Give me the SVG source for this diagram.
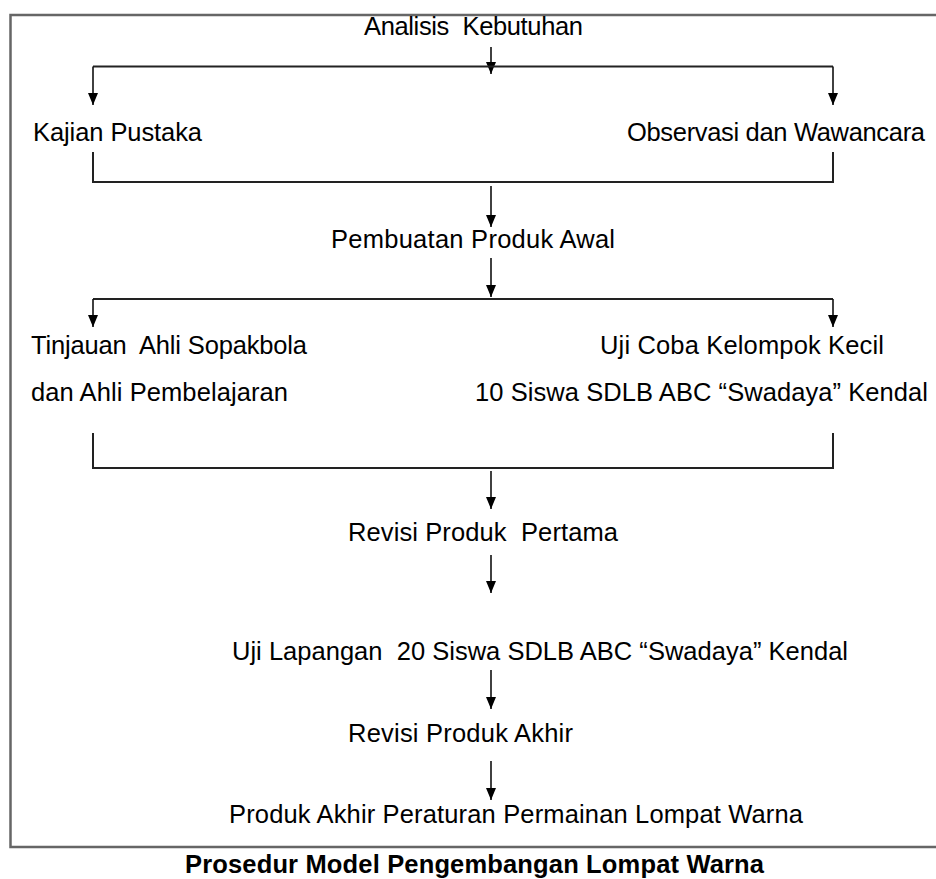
<svg xmlns="http://www.w3.org/2000/svg" width="936" height="879" viewBox="0 0 936 879">
<defs>
<marker id="ah" markerUnits="userSpaceOnUse" markerWidth="12" markerHeight="14" refX="12" refY="5" orient="auto" viewBox="0 0 12 10">
<path d="M0,0 L12,5 L0,10 Z" fill="#000"/>
</marker>
<style>
.t{font-family:"Liberation Sans",Arial,sans-serif;font-size:25.5px;fill:#000;white-space:pre}
.cap{font-family:"Liberation Sans",Arial,sans-serif;font-size:25.5px;font-weight:bold;fill:#000}
.c{fill:none;stroke:#222;stroke-width:2}
.a{fill:none;stroke:#111;stroke-width:1.6;marker-end:url(#ah)}
.frame{fill:none;stroke:#666;stroke-width:2.5}
</style>
</defs>
<rect width="936" height="879" fill="#fff"/>
<path class="frame" d="M936,15 H10.5 V847 H936"/>
<g id="connectors">
<path class="a" d="M491,47 V74"/>
<path class="c" d="M93,66.5 H833"/>
<path class="a" d="M93,66.5 V105"/>
<path class="a" d="M833,66.5 V105"/>
<path class="c" d="M93,152 V182 H833 V152"/>
<path class="a" d="M491,186 V227"/>
<path class="a" d="M491,258 V297"/>
<path class="c" d="M93,299 H833"/>
<path class="a" d="M93,299 V327"/>
<path class="a" d="M833,299 V327"/>
<path class="c" d="M93,433 V468 H833 V433"/>
<path class="a" d="M491,471 V509"/>
<path class="a" d="M491,555 V593"/>
<path class="a" d="M491,670 V709"/>
<path class="a" d="M491,761 V800"/>
</g>
<g id="n-analisis"><text class="t" x="364" y="35" textLength="219" lengthAdjust="spacing">Analisis  Kebutuhan</text></g>
<g id="n-kajian"><text class="t" x="33" y="141" textLength="169" lengthAdjust="spacing">Kajian Pustaka</text></g>
<g id="n-observasi"><text class="t" x="627" y="141" textLength="298" lengthAdjust="spacing">Observasi dan Wawancara</text></g>
<g id="n-pembuatan"><text class="t" x="331" y="248" textLength="284" lengthAdjust="spacing">Pembuatan Produk Awal</text></g>
<g id="n-tinjauan"><text class="t" x="31" y="354" textLength="276" lengthAdjust="spacing">Tinjauan  Ahli Sopakbola</text><text class="t" x="31" y="401" textLength="257" lengthAdjust="spacing">dan Ahli Pembelajaran</text></g>
<g id="n-ujicoba"><text class="t" x="600" y="354" textLength="284" lengthAdjust="spacing">Uji Coba Kelompok Kecil</text><text class="t" x="475" y="401" textLength="453" lengthAdjust="spacing">10 Siswa SDLB ABC “Swadaya” Kendal</text></g>
<g id="n-revisi1"><text class="t" x="348" y="541" textLength="270" lengthAdjust="spacing">Revisi Produk  Pertama</text></g>
<g id="n-ujilapangan"><text class="t" x="232" y="660" textLength="616" lengthAdjust="spacing">Uji Lapangan  20 Siswa SDLB ABC “Swadaya” Kendal</text></g>
<g id="n-revisi2"><text class="t" x="348" y="742" textLength="225" lengthAdjust="spacing">Revisi Produk Akhir</text></g>
<g id="n-produk"><text class="t" x="229" y="823" textLength="574" lengthAdjust="spacing">Produk Akhir Peraturan Permainan Lompat Warna</text></g>
<g id="caption"><text class="cap" x="185" y="873" textLength="579" lengthAdjust="spacing">Prosedur Model Pengembangan Lompat Warna</text></g>
</svg>
